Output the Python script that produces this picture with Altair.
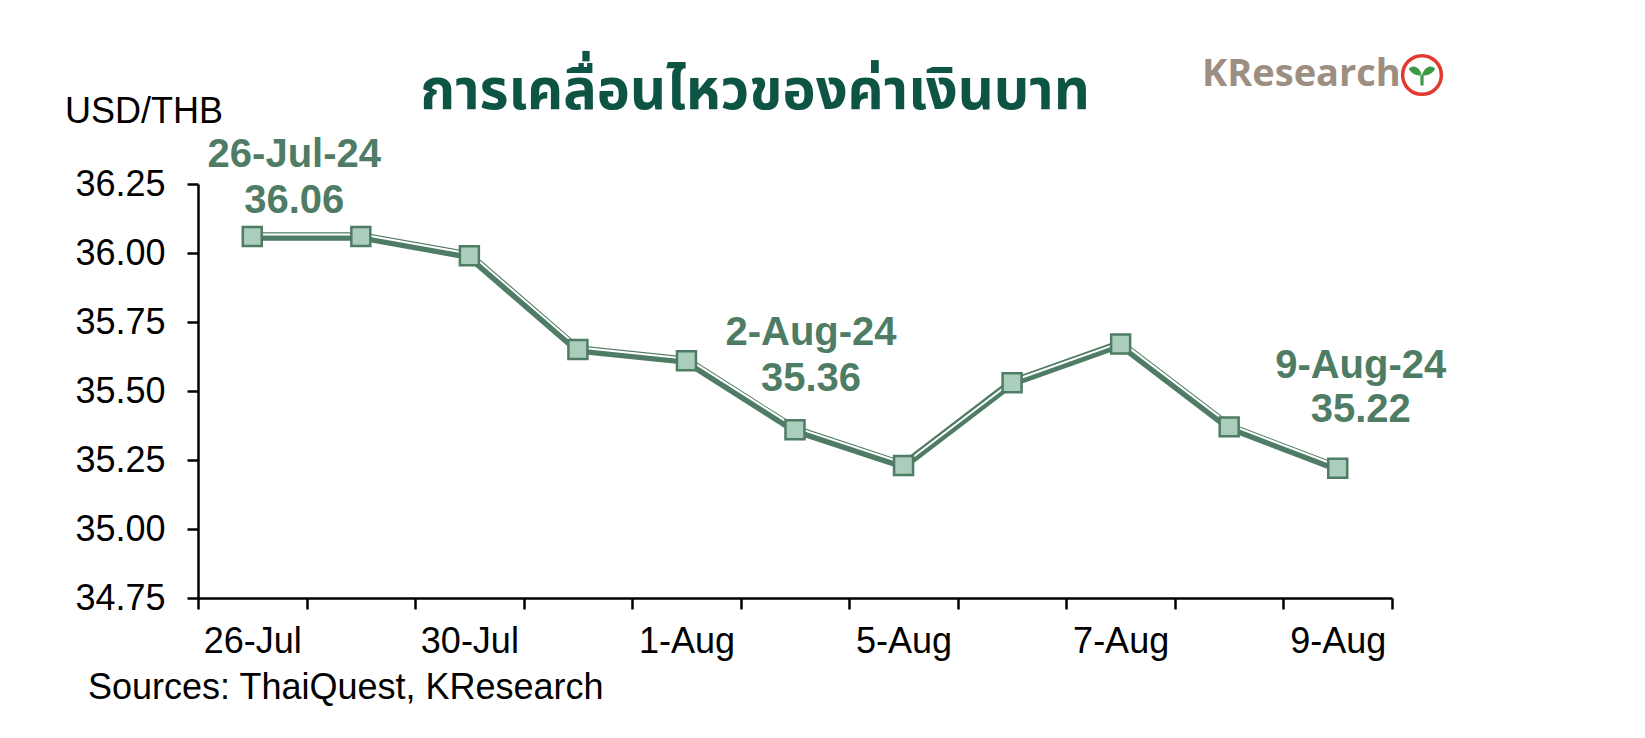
import altair as alt
import pandas as pd

# ---------------- data ----------------
dates = ["26-Jul", "29-Jul", "30-Jul", "31-Jul", "1-Aug", "2-Aug",
         "5-Aug", "6-Aug", "7-Aug", "8-Aug", "9-Aug"]
rates = [36.06, 36.06, 35.99, 35.65, 35.61, 35.36, 35.23, 35.53, 35.67, 35.37, 35.22]
shown_labels = ["26-Jul", "30-Jul", "1-Aug", "5-Aug", "7-Aug", "9-Aug"]
y_ticks = [34.75, 35.00, 35.25, 35.50, 35.75, 36.00, 36.25]
ann_dates = ["26-Jul", "2-Aug", "9-Aug"]
ann_titles = ["26-Jul-24", "2-Aug-24", "9-Aug-24"]

title_text = "การเคลื่อนไหวของค่าเงินบาท"
unit_text = "USD/THB"
source_text = "Sources: ThaiQuest, KResearch"
logo_text = "KResearch"

df = pd.DataFrame({"date": dates, "rate": rates})
ann = pd.DataFrame({
    "date": ann_dates,
    "title": ann_titles,
    "rate": [rates[dates.index(d)] for d in ann_dates],
})
ann["value"] = ann["rate"].map(lambda v: f"{v:.2f}")

# ---------------- style ----------------
GREEN = "#4e7c64"
FILL = "#abcdbc"
TITLE_C = "#0d5445"
FONT = "Liberation Sans"

label_expr = "indexof(" + str(shown_labels) + ", datum.value) >= 0 ? datum.value : ''"

x = alt.X(
    "date:N", sort=dates,
    scale=alt.Scale(type="band", paddingInner=0, paddingOuter=0),
    axis=alt.Axis(title=None, labelAngle=0, tickBand="extent", labelExpr=label_expr,
                  domainColor="black", domainWidth=2.5, tickColor="black", tickWidth=2.5,
                  tickSize=11, labelFont=FONT, labelFontSize=36, labelColor="black",
                  labelPadding=15, grid=False),
)
y = alt.Y(
    "rate:Q",
    scale=alt.Scale(domain=[34.75, 36.25], nice=False, zero=False),
    axis=alt.Axis(title=None, values=y_ticks, format=".2f", grid=False,
                  domainColor="black", domainWidth=2.5, tickColor="black", tickWidth=2.5,
                  tickSize=11, labelFont=FONT, labelFontSize=36, labelColor="black",
                  labelPadding=22),
)

base = alt.Chart(df).encode(x=x, y=y)
line_dark = base.mark_line(color=GREEN, strokeWidth=8.5, strokeJoin="round")
line_white = base.mark_line(color="white", strokeWidth=2.0, yOffset=-2, xOffset=1, strokeJoin="round")
points = base.mark_square(size=360, fill=FILL, stroke=GREEN, strokeWidth=2.5, opacity=1)

abase = alt.Chart(ann).encode(x=x, y=y)
offsets = {"26-Jul": (42, -81, -35), "2-Aug": (16, -97, -51), "9-Aug": (23, -102, -58)}
ann_layers = []
for d, (dx, dy1, dy2) in offsets.items():
    sel = abase.transform_filter(alt.datum.date == d)
    ann_layers.append(sel.mark_text(font=FONT, fontSize=40, fontWeight="bold", color=GREEN,
                                    baseline="middle", align="center", dx=dx, dy=dy1)
                      .encode(text="title:N"))
    ann_layers.append(sel.mark_text(font=FONT, fontSize=40, fontWeight="bold", color=GREEN,
                                    baseline="middle", align="center", dx=dx, dy=dy2)
                      .encode(text="value:N"))


def deco(text, **kw):
    return alt.Chart(pd.DataFrame({"t": [text]})).mark_text(**kw)


title = deco(title_text, font="Noto Sans Thai, Noto Sans, DejaVu Sans, sans-serif",
             fontSize=56, fontWeight="bold", color=TITLE_C, align="center",
             baseline="middle").encode(x=alt.value(557), y=alt.value(-92), text="t:N")
unit = deco(unit_text, font=FONT, fontSize=36, color="black", align="left",
            baseline="middle").encode(x=alt.value(-133), y=alt.value(-72), text="t:N")
source = deco(source_text, font=FONT, fontSize=36, color="black", align="left",
              baseline="middle").encode(x=alt.value(-110), y=alt.value(504), text="t:N")
logo = deco(logo_text, font="Open Sans", fontSize=38, fontWeight="bold", color="#9c8f82",
            align="left", baseline="middle").encode(x=alt.value(1004), y=alt.value(-109), text="t:N")
logo_ring = alt.Chart(pd.DataFrame({"t": [0]})).mark_point(
    shape="circle", size=1500, fill="white", stroke="#e23a2e", strokeWidth=3.5, opacity=1
).encode(x=alt.value(1224), y=alt.value(-109))
sprout_path = ("M0,0.15 C-0.2,-0.55 -0.8,-0.65 -1,-0.3 C-0.7,0.15 -0.3,0.25 0,0.15 Z "
               "M0,0.15 C0.2,-0.55 0.8,-0.65 1,-0.3 C0.7,0.15 0.3,0.25 0,0.15 Z "
               "M-0.12,0.1 L0.12,0.1 L0.12,0.95 L-0.12,0.95 Z")
logo_sprout = alt.Chart(pd.DataFrame({"t": [0]})).mark_point(
    shape=sprout_path, size=700, fill="#3a9a45", strokeWidth=0, opacity=1, filled=True
).encode(x=alt.value(1224), y=alt.value(-111))

chart = alt.layer(
    line_dark, line_white, points, *ann_layers,
    title, unit, source, logo, logo_ring, logo_sprout
).properties(
    width=1194, height=414,
    padding={"left": 190, "top": 176, "right": 245, "bottom": 120},
    autosize=alt.AutoSizeParams(type="none"),
    background="white",
).configure_view(strokeWidth=0, stroke=None)

chart.save("out.html", embed_options={"renderer": "svg", "actions": False})
